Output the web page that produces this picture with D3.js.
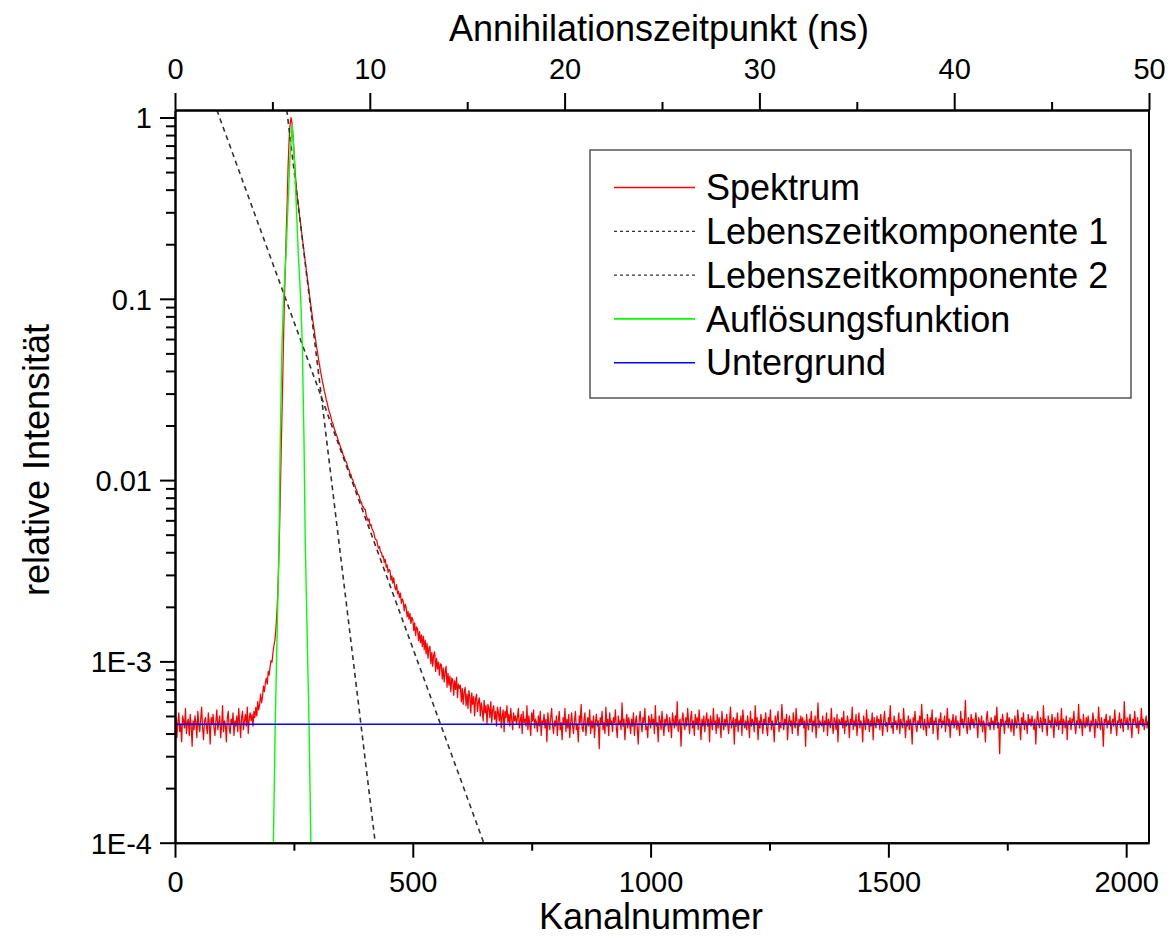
<!DOCTYPE html>
<html><head><meta charset="utf-8">
<script src="https://cdnjs.cloudflare.com/ajax/libs/d3/7.8.5/d3.min.js"></script>
<style>
html,body{margin:0;padding:0;background:#fff;}
svg{display:block;font-family:"Liberation Sans",Arial,sans-serif;}
</style></head><body>
<svg id="chart" width="1171" height="938"></svg>
<script>
// ---------- data ----------
const xLabel = "Kanalnummer";
const x2Label = "Annihilationszeitpunkt (ns)";
const yLabel = "relative Intensität";
const seriesNames = ["Spektrum","Lebenszeitkomponente 1","Lebenszeitkomponente 2","Auflösungsfunktion","Untergrund"];
const channelMax = 2048;
const timeMax = 50;
const yMin = 1e-4, yMax = 1.1;
const xMajorTicks = [0,500,1000,1500,2000];
const xMinorTicks = [250,750,1250,1750];
const topMajorTicks = [0,10,20,30,40,50];
const topMinorTicks = [5,15,25,35,45];
const yMajorTicks = [1e-4,1e-3,1e-2,1e-1,1];
const yTickLabels = ["1E-4","1E-3","0.01","0.1","1"];

// spectrum: counts every 2nd channel, 1 = 100000 counts
const countsPerUnit = 1e5;
const spectrumStep = 2;
const spectrumCounts = [
44,49,38,46,52,41,45,36,50,47,43,55,40,46,48,39,51,44,34,47,
42,50,46,38,53,45,41,48,56,43,37,47,49,44,40,52,46,35,49,45,
51,43,39,47,54,42,46,50,38,44,57,41,47,45,36,49,53,43,40,48,
45,52,39,47,44,50,41,55,46,38,49,53,42,47,51,44,56,40,48,52,
47,51,44,53,49,56,50,60,54,58,66,59,64,73,68,76,81,75,88,84,
94,101,99,112,122,131,149,181,236,338,552,980,1760,3110,5560,9850,15200,23400,35400,55800,
76000,92000,100000,93000,80000,66000,54000,45000,38500,35000,31700,28600,26050,23500,21380,19300,17580,15900,14500,13120,
11990,10850,9940,9020,8290,7530,6950,6340,5870,5370,5010,4600,4310,3980,3760,3490,3320,3095,2960,2775,
2670,2515,2400,2320,2220,2095,2060,1950,1890,1820,1760,1700,1625,1585,1515,1480,1425,1365,1340,1280,
1262,1214,1155,1140,1083,1075,1019,1003,951,944,897,884,838,831,806,761,758,716,712,690,
690,641,618,595,612,560,570,541,528,514,482,470,468,440,421,430,402,399,377,381,
352,366,331,341,310,322,318,281,296,270,289,259,248,265,236,244,225,238,209,221,
214,190,207,199,176,189,171,184,162,175,170,148,163,139,155,151,130,146,127,140,
121,138,116,131,110,126,104,118,121,97,112,94,109,113,88,104,91,99,84,97,
96,80,92,77,88,94,72,86,74,83,68,81,79,65,78,70,82,63,75,71,
74,60,71,58,68,72,57,66,55,69,63,52,67,58,64,50,62,66,53,60,
63,50,59,54,47,61,52,57,45,58,55,49,60,46,54,57,48,53,44,56,
52,47,56,43,50,54,41,53,49,57,46,51,44,55,48,42,52,47,50,45,
49,55,43,47,51,40,53,46,48,44,57,42,50,45,39,52,47,54,43,48,
46,41,50,44,53,39,47,45,51,43,48,36,52,46,42,49,55,44,40,47,
44,50,39,47,53,42,46,37,49,45,55,41,48,43,51,38,46,52,44,40,
47,53,42,45,36,50,46,58,43,41,48,52,39,45,49,44,54,40,47,43,
50,38,46,51,44,47,33,49,45,53,42,46,40,56,44,48,39,52,45,47,
41,49,46,54,43,38,50,45,47,42,59,44,48,37,46,51,43,49,45,40,
48,44,52,39,46,50,43,35,47,53,45,41,49,46,55,42,44,38,50,47,
43,51,45,48,40,57,44,46,36,50,47,42,53,45,39,48,44,51,46,41,
49,45,38,52,47,43,50,44,60,41,46,48,34,47,52,45,42,49,44,55,
46,40,48,53,43,47,39,51,45,49,42,54,46,37,48,44,50,41,47,52,
44,48,36,50,46,42,55,45,47,40,51,43,49,45,38,53,46,42,48,44,
51,45,40,47,56,43,46,49,35,48,44,52,41,47,45,50,39,54,46,43,
47,42,50,45,38,53,44,48,46,41,57,45,49,37,47,43,51,46,40,48,
45,52,43,39,49,46,54,42,47,44,36,50,45,48,53,41,46,43,58,47,
42,48,45,51,37,46,50,44,47,40,52,45,43,55,46,39,48,44,50,45,
49,43,47,34,51,45,42,48,46,53,41,47,44,50,38,46,59,43,47,45,
44,50,41,47,45,52,39,48,46,43,55,45,40,49,47,42,51,36,48,46,
45,49,43,53,40,47,44,50,46,38,48,45,56,42,47,44,51,39,46,52,
43,47,45,36,50,46,42,54,45,48,41,47,44,52,37,49,45,43,50,46,
48,42,51,45,39,47,53,44,46,41,49,45,57,43,46,40,50,45,47,42,
46,52,40,48,45,43,55,46,38,47,44,50,42,48,45,35,49,46,53,44,
41,47,45,50,43,58,46,42,48,44,39,51,46,43,49,45,54,40,47,45,
49,44,37,48,46,52,43,47,45,50,41,46,55,44,48,38,47,45,51,43,
46,50,42,47,44,39,53,45,48,43,47,61,44,40,49,46,42,51,45,48,
43,47,52,45,38,49,46,44,50,41,47,45,36,48,53,44,46,42,49,45,
47,42,50,45,56,43,46,31,48,44,51,46,40,47,45,52,43,49,46,41,
48,45,39,50,46,43,54,47,44,37,49,45,52,42,47,46,40,51,45,48,
44,50,46,42,48,35,47,53,45,43,49,46,41,57,45,48,44,39,50,46,
47,43,51,45,38,49,46,44,52,42,47,45,55,40,48,46,43,50,37,47,
45,49,42,48,46,53,44,40,47,45,58,43,48,46,39,51,45,43,49,44,
50,45,41,47,44,52,46,38,48,45,43,56,46,42,49,45,34,48,46,51,
43,47,45,50,40,46,48,44,54,45,39,47,46,52,43,48,45,41,60,46,
45,49,42,47,51,44,38,48,46,53,45,43,49,40,47,45,55,44,48,42,
46,50,43,47
];

const comp1Channels = [235, 421];
const comp1Values   = [1.1, 1e-4];
const comp2Channels = [88, 649];
const comp2Values   = [1.1, 1e-4];

const resolutionChannels = [206.3,206.9,210.8,214.8,218.8,221.3,224.8,228.1,233.3,238.0,242.3,246.3,250.3,254.6,259.3,264.5,267.8,271.3,273.8,277.8,281.8,285.7,286.3];
const resolutionValues   = [8e-5,1e-4,4.6e-4,1.44e-3,4.7e-3,0.0162,0.054,0.098,0.174,0.35,0.64,0.91,0.64,0.35,0.174,0.098,0.054,0.0162,4.7e-3,1.44e-3,4.6e-4,1e-4,8e-5];

const backgroundChannels = [0, 2048];
const backgroundValues   = [4.5e-4, 4.5e-4];

const seriesColors = ["#ff0000","#333333","#333333","#00ff00","#0000ff"];

// ---------- layout ----------
const L = 175, R = 1149, T = 110, B = 842.7;
const svg = d3.select("#chart");
const x = d3.scaleLinear().domain([0, channelMax]).range([L, R]);
const xTop = d3.scaleLinear().domain([0, timeMax]).range([L, R]);
const y = d3.scaleLog().domain([yMin, yMax]).range([B, T]);

svg.append("defs").append("clipPath").attr("id","clip")
  .append("rect").attr("x",L).attr("y",T).attr("width",R-L).attr("height",B-T);

const plot = svg.append("g").attr("clip-path","url(#clip)");
const line = d3.line().x(d => x(d[0])).y(d => y(d[1]));

const spectrum = spectrumCounts.map((c,i) => [i*spectrumStep, c/countsPerUnit]);
const comp1 = comp1Channels.map((c,i) => [c, comp1Values[i]]);
const comp2 = comp2Channels.map((c,i) => [c, comp2Values[i]]);
const resol = resolutionChannels.map((c,i) => [c, resolutionValues[i]]);
const bg = backgroundChannels.map((c,i) => [c, backgroundValues[i]]);

plot.append("path").datum(spectrum).attr("d", line)
  .attr("fill","none").attr("stroke",seriesColors[0]).attr("stroke-width",1.25).attr("stroke-linejoin","round");
plot.append("path").datum(comp1).attr("d", line)
  .attr("fill","none").attr("stroke",seriesColors[1]).attr("stroke-width",1.6).attr("stroke-dasharray","5,4");
plot.append("path").datum(comp2).attr("d", line)
  .attr("fill","none").attr("stroke",seriesColors[2]).attr("stroke-width",1.6).attr("stroke-dasharray","5,4");
plot.append("path").datum(resol).attr("d", line)
  .attr("fill","none").attr("stroke",seriesColors[3]).attr("stroke-width",1.4);
plot.append("path").datum(bg).attr("d", line)
  .attr("fill","none").attr("stroke",seriesColors[4]).attr("stroke-width",1.3);

// ---------- axes ----------
function styleAxis(g){
  g.selectAll("path.domain").attr("stroke","#000").attr("stroke-width",2);
  g.selectAll(".tick line").attr("stroke","#000").attr("stroke-width",2);
  g.selectAll("text").attr("fill","#000").attr("font-size","29px").attr("font-family","'Liberation Sans', Arial, sans-serif");
}
// bottom
const gb = svg.append("g").attr("transform",`translate(0,${B})`)
  .call(d3.axisBottom(x).tickValues(xMajorTicks).tickSize(15).tickSizeOuter(0).tickFormat(d3.format("d")));
styleAxis(gb); gb.selectAll("text").attr("y",49).attr("dy",0);
const gbm = svg.append("g").attr("transform",`translate(0,${B})`)
  .call(d3.axisBottom(x).tickValues(xMinorTicks).tickSize(8).tickSizeOuter(0).tickFormat(""));
styleAxis(gbm);
// top
const gt = svg.append("g").attr("transform",`translate(0,${T})`)
  .call(d3.axisTop(xTop).tickValues(topMajorTicks).tickSize(17).tickSizeOuter(0).tickFormat(d3.format("d")));
styleAxis(gt); gt.selectAll("text").attr("y",-31).attr("dy",0);
const gtm = svg.append("g").attr("transform",`translate(0,${T})`)
  .call(d3.axisTop(xTop).tickValues(topMinorTicks).tickSize(8).tickSizeOuter(0).tickFormat(""));
styleAxis(gtm);
// left
const gl = svg.append("g").attr("transform",`translate(${L},0)`)
  .call(d3.axisLeft(y).tickValues(yMajorTicks).tickSize(15).tickSizeOuter(0).tickFormat((d,i) => yTickLabels[i]));
styleAxis(gl); gl.selectAll("text").attr("x",-23).attr("dy","0.36em");
const yMinor = y.ticks().filter(v => !yMajorTicks.some(m => Math.abs(m - v)/m < 1e-9));
const glm = svg.append("g").attr("transform",`translate(${L},0)`)
  .call(d3.axisLeft(y).tickValues(yMinor).tickSize(9).tickSizeOuter(0).tickFormat(""));
styleAxis(glm);
// right
svg.append("line").attr("x1",R).attr("x2",R).attr("y1",T).attr("y2",B).attr("stroke","#000").attr("stroke-width",2);

// ---------- titles ----------
svg.append("text").attr("x",659).attr("y",41).attr("text-anchor","middle")
  .attr("font-size","36px").attr("fill","#000").text(x2Label);
svg.append("text").attr("x",651).attr("y",929).attr("text-anchor","middle")
  .attr("font-size","36px").attr("fill","#000").text(xLabel);
svg.append("text").attr("transform","translate(36,460) rotate(-90)").attr("text-anchor","middle")
  .attr("dy","0.35em").attr("font-size","36px").attr("fill","#000").text(yLabel);

// ---------- legend ----------
const lg = svg.append("g");
lg.append("rect").attr("x",590).attr("y",150).attr("width",541).attr("height",248)
  .attr("fill","#fff").attr("stroke","#555").attr("stroke-width",1.5);
const legY0 = 187.5, legStep = 43.8;
seriesNames.forEach((name,i) => {
  const yy = legY0 + i*legStep;
  const ln = lg.append("line").attr("x1",614).attr("x2",695).attr("y1",yy).attr("y2",yy)
    .attr("stroke",seriesColors[i]).attr("stroke-width", (i===1||i===2)?1.2:1.6);
  if (i===1||i===2) ln.attr("stroke-dasharray","3,3");
  lg.append("text").attr("x",706).attr("y",yy).attr("dy","0.35em")
    .attr("font-size","36px").attr("fill","#000").text(name);
});
</script>
</body></html>
